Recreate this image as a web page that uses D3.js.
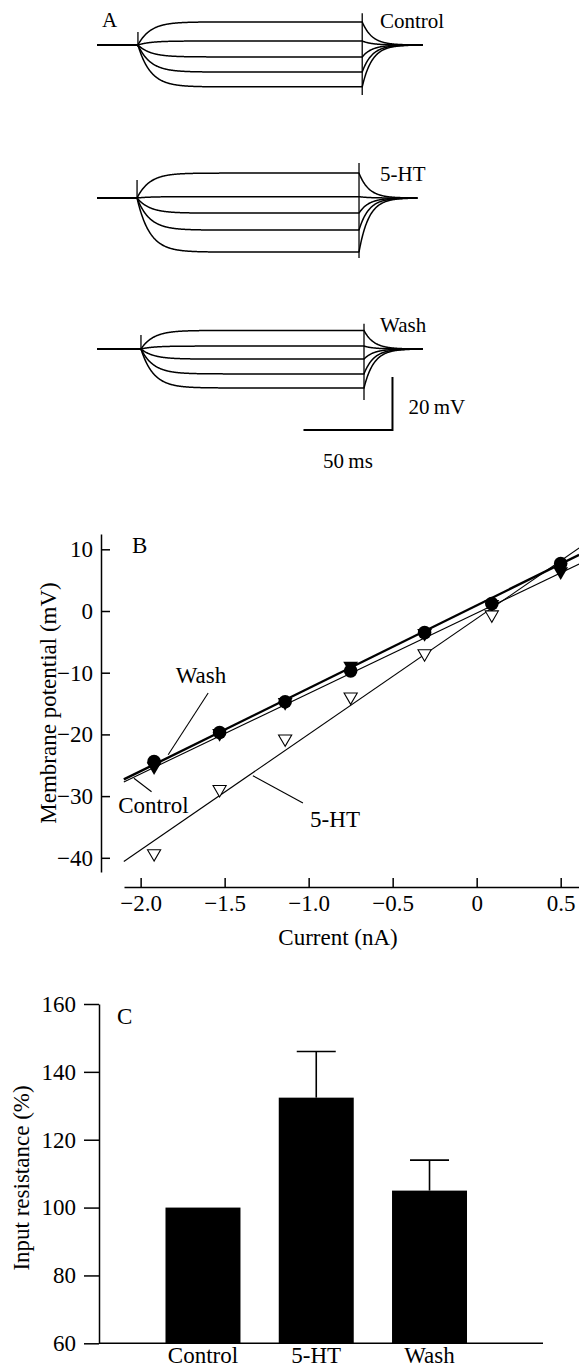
<!DOCTYPE html>
<html>
<head>
<meta charset="utf-8">
<script src="https://cdn.jsdelivr.net/npm/d3@7"></script>
<style>
    body { margin: 0; background: #fff; }
    svg { display: block; font-family: "Liberation Serif", "DejaVu Serif", serif; }
</style>
</head>
<body>
<script>
// ---- panel A : voltage responses to current steps (mV relative to rest)
const sweepNames = ["Control", "5-HT", "Wash"];
const levelsControl = [8.7, 1.5, -4.5, -10.2, -15.8];
const levels5HT = [9.4, 0.5, -5.7, -12.1, -20.4];
const levelsWash = [7.0, 1.1, -3.8, -9.4, -14.7];
const stepOn = [23, 22.5, 24.7];      // ms
const stepOff = [149, 147.2, 150];    // ms
const sweepEnd = [183, 180, 183];     // ms
const onArtifact = [[4.9, -0.8], [6.8, -0.3], [5.3, -0.5]];
const offArtifact = [[12, -18.9], [13.2, -22.6], [9.5, -19.2]];
const tauOn = 7, tauOff = 5.5;

// ---- panel B : V-I relation
const currents = [-1.92, -1.53, -1.14, -0.75, -0.31, 0.09, 0.5];
const vControl = [-24.4, -19.7, -14.7, -9.7, -3.5, 1.2, 7.7];
const vWash = [-25.2, -19.8, -14.8, -8.9, -3.6, 1.1, 6.4];
const v5HT = [-39.3, -28.9, -20.7, -13.9, -6.9, -0.6, 7.0];
const fitControl = [[-2.1, -27.3], [0.61, 9.1]];
const fitWash = [[-2.1, -27.7], [0.61, 7.6]];
const fit5HT = [[-2.1, -40.6], [0.61, 10.2]];
const xTicksB = [-2.0, -1.5, -1.0, -0.5, 0, 0.5];
const yTicksB = [-40, -30, -20, -10, 0, 10];

// ---- panel C : input resistance
const groups = ["Control", "5-HT", "Wash"];
const resistance = [100, 132.4, 105];
const resistanceErr = [0, 13.6, 9];
const yTicksC = [60, 80, 100, 120, 140, 160];

const width = 579, height = 1369;
const svg = d3.select("body").append("svg")
    .attr("width", width)
    .attr("height", height);

const fontA = 21, font = 23;

// ================= A =================
const xA = d3.scaleLinear([0, 50], [97, 186]);
const rowBase = [45, 198, 349];
const levelSets = [levelsControl, levels5HT, levelsWash];

function trace(L, i) {
    const ton = stepOn[i], toff = stepOff[i];
    const Lend = L * (1 - Math.exp(-(toff - ton) / tauOn));
    return d3.range(0, sweepEnd[i] + 0.01, 0.25).map(t => {
        let v = 0;
        if (t >= toff) v = Lend * Math.exp(-(t - toff) / tauOff);
        else if (t >= ton) v = L * (1 - Math.exp(-(t - ton) / tauOn));
        return [t, v];
    });
}

sweepNames.forEach((name, i) => {
    const y = d3.scaleLinear([0, 20], [rowBase[i], rowBase[i] - 53]);
    const line = d3.line().x(d => xA(d[0])).y(d => y(d[1]));
    const g = svg.append("g");

    g.selectAll("path")
        .data(levelSets[i])
        .join("path")
        .attr("fill", "none")
        .attr("stroke", "#000")
        .attr("stroke-width", 1.5)
        .attr("d", L => line(trace(L, i)));

    g.append("line")
        .attr("x1", xA(stepOn[i])).attr("x2", xA(stepOn[i]))
        .attr("y1", y(onArtifact[i][0])).attr("y2", y(onArtifact[i][1]))
        .attr("stroke", "#000").attr("stroke-width", 1.3);
    g.append("line")
        .attr("x1", xA(stepOff[i])).attr("x2", xA(stepOff[i]))
        .attr("y1", y(offArtifact[i][0])).attr("y2", y(offArtifact[i][1]))
        .attr("stroke", "#000").attr("stroke-width", 1.3);

    g.append("text")
        .attr("x", xA(159))
        .attr("y", rowBase[i] - 17)
        .attr("font-size", fontA)
        .text(name);
});

svg.append("text").attr("x", 102).attr("y", 27).attr("font-size", fontA).text("A");

// scale bar (drawn in the wash row coordinates)
{
    const y = d3.scaleLinear([0, 20], [rowBase[2], rowBase[2] - 53]);
    const t1 = 166, v0 = -30.6;
    svg.append("path")
        .attr("fill", "none")
        .attr("stroke", "#000")
        .attr("stroke-width", 2)
        .attr("d", `M${xA(t1 - 50)},${y(v0)}H${xA(t1)}V${y(v0 + 20)}`);
    svg.append("text")
        .attr("x", xA(t1) + 16).attr("y", 414)
        .attr("font-size", fontA)
        .text("20\u2009mV");
    svg.append("text")
        .attr("x", xA(t1 - 25)).attr("y", 468)
        .attr("text-anchor", "middle")
        .attr("font-size", fontA)
        .text("50\u2009ms");
}

// ================= B =================
const xB = d3.scaleLinear([-2.099, 0.609], [124, 579]);
const yB = d3.scaleLinear([-42.3, 12.48], [872, 534]);

svg.append("g")
    .attr("transform", "translate(101,0)")
    .call(d3.axisLeft(yB).tickValues(yTicksB).tickFormat(d3.format("d"))
        .tickSizeInner(-9).tickSizeOuter(0).tickPadding(8))
    .call(g => g.selectAll("text").attr("font-size", font))
    .call(g => g.selectAll("path,line").attr("stroke-width", 1.5))
    .attr("font-family", null);

svg.append("g")
    .attr("transform", "translate(0,887)")
    .call(d3.axisBottom(xB).tickValues(xTicksB)
        .tickFormat(d => d === 0 ? "0" : d3.format(".1f")(d))
        .tickSizeInner(-9).tickSizeOuter(0).tickPadding(8))
    .call(g => g.selectAll("text").attr("font-size", font))
    .call(g => g.selectAll("path,line").attr("stroke-width", 1.5))
    .attr("font-family", null);

svg.append("text")
    .attr("x", xB(-0.825)).attr("y", 945)
    .attr("text-anchor", "middle")
    .attr("font-size", font)
    .text("Current (nA)");

svg.append("text")
    .attr("transform", "translate(56,703) rotate(-90)")
    .attr("text-anchor", "middle")
    .attr("font-size", font)
    .text("Membrane potential (mV)");

svg.append("text").attr("x", 132).attr("y", 553).attr("font-size", font).text("B");

const fitLine = d3.line().x(d => xB(d[0])).y(d => yB(d[1]));
svg.append("path").attr("d", fitLine(fit5HT))
    .attr("stroke", "#000").attr("stroke-width", 1.1).attr("fill", "none");
svg.append("path").attr("d", fitLine(fitWash))
    .attr("stroke", "#000").attr("stroke-width", 1.1).attr("fill", "none");
svg.append("path").attr("d", fitLine(fitControl))
    .attr("stroke", "#000").attr("stroke-width", 2.4).attr("fill", "none");

const tri = d3.symbol(d3.symbolTriangle);

svg.append("g").selectAll("path")
    .data(currents.map((c, i) => [c, vWash[i]]))
    .join("path")
    .attr("transform", d => `translate(${xB(d[0])},${yB(d[1])}) rotate(180)`)
    .attr("d", tri.size(95)())
    .attr("fill", "#000");

svg.append("g").selectAll("circle")
    .data(currents.map((c, i) => [c, vControl[i]]))
    .join("circle")
    .attr("cx", d => xB(d[0]))
    .attr("cy", d => yB(d[1]))
    .attr("r", 6.8)
    .attr("fill", "#000");

svg.append("g").selectAll("path")
    .data(currents.slice(0, 6).map((c, i) => [c, v5HT[i]]))
    .join("path")
    .attr("transform", d => `translate(${xB(d[0])},${yB(d[1])}) rotate(180)`)
    .attr("d", tri.size(75)())
    .attr("fill", "#fff")
    .attr("stroke", "#000")
    .attr("stroke-width", 1.1);

// labels with leader lines (data units)
const annotations = [
    {text: "Wash", at: [-1.641, -10.4], from: [-1.598, -13.3], to: [-1.836, -23.3]},
    {text: "Control", at: [-1.924, -31.4], from: [-2.04, -27.1], to: [-1.935, -29.3]},
    {text: "5-HT", at: [-0.843, -33.7], from: [-1.332, -26.7], to: [-1.034, -31.1]}
];
annotations.forEach(a => {
    svg.append("line")
        .attr("x1", xB(a.from[0])).attr("y1", yB(a.from[1]))
        .attr("x2", xB(a.to[0])).attr("y2", yB(a.to[1]))
        .attr("stroke", "#000").attr("stroke-width", 1.1);
    svg.append("text")
        .attr("x", xB(a.at[0])).attr("y", yB(a.at[1]))
        .attr("dy", "0.35em")
        .attr("text-anchor", "middle")
        .attr("font-size", font)
        .text(a.text);
});

// ================= C =================
const xC = d3.scaleBand(groups, [146.35, 486.15]).paddingInner(0.338).paddingOuter(0.169);
const yC = d3.scaleLinear([60, 160], [1343.3, 1004]);

svg.append("g")
    .attr("transform", "translate(99,0)")
    .call(d3.axisLeft(yC).tickValues(yTicksC).tickFormat(d3.format("d"))
        .tickSizeInner(15).tickSizeOuter(0).tickPadding(8))
    .call(g => g.selectAll("text").attr("font-size", font))
    .call(g => g.selectAll("path,line").attr("stroke-width", 1.5))
    .attr("font-family", null);

svg.append("line")
    .attr("x1", 99).attr("x2", 543)
    .attr("y1", yC(60)).attr("y2", yC(60))
    .attr("stroke", "#000").attr("stroke-width", 1.5);

svg.append("g").selectAll("rect")
    .data(groups)
    .join("rect")
    .attr("x", d => xC(d))
    .attr("width", xC.bandwidth())
    .attr("y", (d, i) => yC(resistance[i]))
    .attr("height", (d, i) => yC(60) - yC(resistance[i]))
    .attr("fill", "#000");

const errG = svg.append("g").attr("stroke", "#000").attr("stroke-width", 1.6);
groups.forEach((d, i) => {
    if (!resistanceErr[i]) return;
    const cx = xC(d) + xC.bandwidth() / 2;
    errG.append("line")
        .attr("x1", cx).attr("x2", cx)
        .attr("y1", yC(resistance[i])).attr("y2", yC(resistance[i] + resistanceErr[i]));
    errG.append("line")
        .attr("x1", cx - 19.5).attr("x2", cx + 19.5)
        .attr("y1", yC(resistance[i] + resistanceErr[i])).attr("y2", yC(resistance[i] + resistanceErr[i]));
});

svg.append("g").selectAll("text")
    .data(groups)
    .join("text")
    .attr("x", d => xC(d) + xC.bandwidth() / 2)
    .attr("y", 1363)
    .attr("text-anchor", "middle")
    .attr("font-size", font)
    .text(d => d);

svg.append("text")
    .attr("transform", "translate(29,1178) rotate(-90)")
    .attr("text-anchor", "middle")
    .attr("font-size", font)
    .text("Input resistance (%)");

svg.append("text").attr("x", 117).attr("y", 1024).attr("font-size", font).text("C");
</script>
</body>
</html>
